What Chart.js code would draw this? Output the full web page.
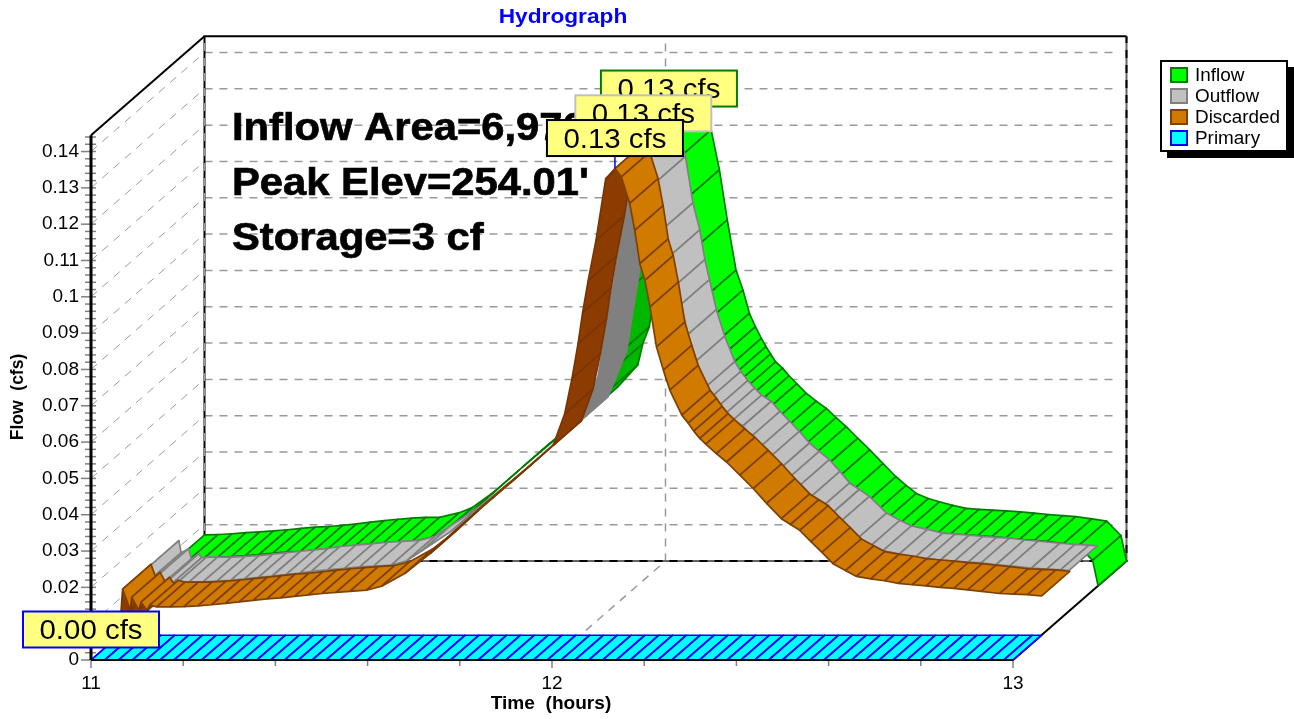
<!DOCTYPE html>
<html>
<head>
<meta charset="utf-8">
<title>Hydrograph</title>
<script src="https://cdn.jsdelivr.net/npm/chart.js@4"></script>
<style>
  html, body { margin: 0; padding: 0; background: #fff; }
  canvas { display: block; }
</style>
</head>
<body>
<canvas id="myChart" width="1294" height="719"></canvas>
<script>
const seriesNames = ['Inflow', 'Outflow', 'Discarded', 'Primary'];

const inflowHours = [11, 11.03, 11.06, 11.09, 11.12, 11.15, 11.18, 11.21, 11.24, 11.27,
  11.3, 11.33, 11.36, 11.39, 11.42, 11.45, 11.48, 11.51, 11.553, 11.582,
  11.633, 11.683, 11.75, 11.82, 11.88, 11.897, 11.94, 11.951, 11.965, 11.985,
  12.02, 12.05, 12.065, 12.08, 12.099, 12.117, 12.134, 12.153, 12.168, 12.182,
  12.195, 12.208, 12.218, 12.228, 12.239, 12.254, 12.268, 12.285, 12.305, 12.327,
  12.349, 12.37, 12.392, 12.417, 12.443, 12.472, 12.5, 12.522, 12.544, 12.57,
  12.594, 12.623, 12.652, 12.68, 12.71, 12.739, 12.77, 12.8, 12.83, 12.862,
  12.89, 12.925, 12.957, 12.988, 13];
const inflowFlow = [0.0072, 0.0073, 0.0075, 0.0078, 0.008, 0.0083, 0.0086, 0.009, 0.0093, 0.0095,
  0.0098, 0.0102, 0.0107, 0.0111, 0.0115, 0.0118, 0.012, 0.012, 0.0133, 0.0148,
  0.0195, 0.0251, 0.0325, 0.04, 0.0465, 0.048, 0.054, 0.0599, 0.0645, 0.082,
  0.105, 0.125, 0.1307, 0.1275, 0.1187, 0.1077, 0.0939, 0.0801, 0.0746, 0.0682,
  0.0645, 0.0613, 0.059, 0.057, 0.0548, 0.0531, 0.051, 0.0488, 0.0462, 0.044,
  0.042, 0.0395, 0.037, 0.0338, 0.0306, 0.0268, 0.0232, 0.0208, 0.0186, 0.0172,
  0.0163, 0.0153, 0.0145, 0.0142, 0.014, 0.0138, 0.0135, 0.0132, 0.0128, 0.0125,
  0.0122, 0.0116, 0.011, 0.007, 0];

const outflowHours = [11, 11.006, 11.011, 11.027, 11.033, 11.049, 11.055, 11.066, 11.09, 11.12,
  11.15, 11.18, 11.21, 11.24, 11.27, 11.3, 11.33, 11.355, 11.39, 11.427,
  11.46, 11.49, 11.528, 11.561, 11.593, 11.658, 11.745, 11.811, 11.879, 11.937,
  11.977, 12.002, 12.03, 12.055, 12.07, 12.085, 12.105, 12.121, 12.136, 12.147,
  12.157, 12.172, 12.19, 12.212, 12.225, 12.24, 12.255, 12.27, 12.291, 12.31,
  12.331, 12.352, 12.374, 12.395, 12.417, 12.44, 12.461, 12.482, 12.504, 12.541,
  12.57, 12.595, 12.63, 12.663, 12.69, 12.72, 12.75, 12.78, 12.808, 12.84,
  12.87, 12.917, 12.95, 12.98, 12.998];
const outflowFlow = [0, 0.0124, 0.0091, 0.0102, 0.0074, 0.0088, 0.0077, 0.0079, 0.0079, 0.0079,
  0.0081, 0.0083, 0.0087, 0.0091, 0.0095, 0.0099, 0.0103, 0.0108, 0.0112, 0.0116,
  0.012, 0.0122, 0.0125, 0.0136, 0.0163, 0.0218, 0.0306, 0.0379, 0.0457, 0.0521,
  0.0645, 0.0843, 0.105, 0.1245, 0.1285, 0.1265, 0.1182, 0.1054, 0.098, 0.0898,
  0.0843, 0.076, 0.0687, 0.0617, 0.059, 0.0565, 0.0544, 0.0525, 0.0508, 0.048,
  0.0453, 0.0425, 0.0393, 0.037, 0.0347, 0.0315, 0.0283, 0.0265, 0.0246, 0.02,
  0.018, 0.0165, 0.0155, 0.0145, 0.0142, 0.0139, 0.0136, 0.0133, 0.0131, 0.0126,
  0.0123, 0.0117, 0.0114, 0.0112, 0.011];

const discardedHours = [11, 11.007, 11.024, 11.027, 11.042, 11.047, 11.06, 11.066, 11.081, 11.11,
  11.14, 11.17, 11.2, 11.23, 11.26, 11.29, 11.32, 11.35, 11.38, 11.41,
  11.44, 11.47, 11.5, 11.536, 11.569, 11.619, 11.674, 11.717, 11.782, 11.847,
  11.941, 11.966, 11.982, 11.995, 12.005, 12.017, 12.034, 12.055, 12.075, 12.089,
  12.107, 12.118, 12.129, 12.14, 12.151, 12.165, 12.18, 12.194, 12.22, 12.234,
  12.246, 12.259, 12.272, 12.295, 12.317, 12.346, 12.375, 12.404, 12.436, 12.456,
  12.476, 12.5, 12.524, 12.548, 12.575, 12.599, 12.63, 12.66, 12.69, 12.72,
  12.75, 12.78, 12.81, 12.84, 12.87, 12.91, 12.94, 12.97, 13];
const discardedFlow = [0, 0.0127, 0.0069, 0.0105, 0.0069, 0.0091, 0.0069, 0.0083, 0.0078, 0.0078,
  0.0079, 0.0081, 0.0084, 0.0088, 0.0092, 0.0096, 0.01, 0.0103, 0.0107, 0.0111,
  0.0115, 0.0118, 0.0121, 0.0124, 0.0135, 0.017, 0.0225, 0.0275, 0.0349, 0.0418,
  0.0523, 0.061, 0.0708, 0.0803, 0.0889, 0.0977, 0.1088, 0.1257, 0.1285, 0.1262,
  0.1189, 0.1115, 0.1023, 0.0977, 0.0904, 0.0794, 0.073, 0.0675, 0.0606, 0.0584,
  0.0562, 0.0542, 0.0526, 0.05, 0.0477, 0.0441, 0.0404, 0.0363, 0.0321, 0.0305,
  0.0289, 0.0258, 0.0228, 0.0197, 0.0178, 0.0162, 0.0155, 0.015, 0.0143, 0.0139,
  0.0136, 0.0132, 0.0129, 0.0125, 0.0121, 0.0115, 0.0113, 0.0112, 0.0108];

const primaryHours = [11, 11.03, 11.06, 11.09, 11.12, 11.15, 11.18, 11.21, 11.24, 11.27,
  11.3, 11.33, 11.36, 11.39, 11.42, 11.45, 11.48, 11.51, 11.54, 11.57,
  11.6, 11.63, 11.66, 11.69, 11.72, 11.75, 11.78, 11.81, 11.84, 11.87,
  11.9, 11.93, 11.96, 11.99, 12.02, 12.05, 12.08, 12.11, 12.14, 12.17,
  12.2, 12.23, 12.26, 12.29, 12.32, 12.35, 12.38, 12.41, 12.44, 12.47,
  12.5, 12.53, 12.56, 12.59, 12.62, 12.65, 12.68, 12.71, 12.74, 12.77,
  12.8, 12.83, 12.86, 12.89, 12.92, 12.95, 12.98, 13];
const primaryFlow = [0, 0, 0, 0, 0, 0, 0, 0, 0, 0,
  0, 0, 0, 0, 0, 0, 0, 0, 0, 0,
  0, 0, 0, 0, 0, 0, 0, 0, 0, 0,
  0, 0, 0, 0, 0, 0, 0, 0, 0, 0,
  0, 0, 0, 0, 0, 0, 0, 0, 0, 0,
  0, 0, 0, 0, 0, 0, 0, 0, 0, 0,
  0, 0, 0, 0, 0, 0, 0, 0];

const hourTicks = [11, 12, 13];
const hourMinorTicks = [11.2, 11.4, 11.6, 11.8, 12.2, 12.4, 12.6, 12.8];
const flowTicks = [0, 0.01, 0.02, 0.03, 0.04, 0.05, 0.06, 0.07, 0.08, 0.09, 0.1, 0.11, 0.12, 0.13, 0.14];
const flowMinorSteps = [0.002, 0.004, 0.006, 0.008];

const peakLabels = ['0.13 cfs', '0.13 cfs', '0.13 cfs', '0.00 cfs'];
const peakHours = [12.069, 12.075, 12.075, 11];
const peakFlows = [0.1285, 0.1285, 0.1285, 0];
const noteLines = ['Inflow Area=6,970 sf', "Peak Elev=254.01'", 'Storage=3 cf'];

// the fake 3d: how far the back wall sits from the front plane, in data units
const depthHours = 0.2462;
const depthFlow = 0.02726;
const axisTopFlow = 0.1445;
const hourMin = 11;
const hourMax = 13;

const fills = ['#00ff00', '#c0c0c0', '#d07a00', '#00ffff'];
const darkFills = ['#00b800', '#808080', '#8c3c00', '#00b0b0'];
const strokes = ['#007c00', '#808080', '#804000', '#0000ff'];
const font = '"Liberation Sans", Arial, sans-serif';

const lineDataset = function (points, color, width, dash) {
  return {
    data: points,
    showLine: true,
    fill: false,
    borderColor: color,
    borderWidth: width,
    borderDash: dash || [],
    pointRadius: 0,
    tension: 0,
    clip: false,
  };
};

const backOf = function (hour, flow) {
  return { x: hour + depthHours, y: flow + depthFlow };
};

const makeWalls = function () {
  const walls = [];
  const gray = '#9a9a9a';
  const dash = [8, 7];
  flowTicks.forEach(function (v) {
    // side wall and back wall grid lines
    walls.push(lineDataset([{ x: hourMin, y: v }, backOf(hourMin, v)], gray, 1, dash));
    if (v > 0) {
      walls.push(lineDataset([backOf(hourMin, v), backOf(hourMax - 0.018, v)], gray, 1.5, dash));
    }
  });
  // x = 12 grid line, over the floor and up the back wall
  walls.push(lineDataset([{ x: 12, y: 0 }, backOf(12, 0), backOf(12, axisTopFlow)], gray, 1.5, dash));
  // box edges
  walls.push(lineDataset([backOf(hourMin, 0), backOf(hourMin, axisTopFlow), backOf(hourMax, axisTopFlow)], '#000', 2));
  walls.push(lineDataset([backOf(hourMin, 0), backOf(hourMin, axisTopFlow)], gray, 1.5, dash));
  walls.push(lineDataset([{ x: hourMin, y: axisTopFlow }, backOf(hourMin, axisTopFlow)], '#000', 2));
  walls.push(lineDataset([backOf(hourMin, 0), backOf(hourMax, 0), backOf(hourMax, axisTopFlow)], '#666', 2));
  walls.push(lineDataset([backOf(hourMin, 0), backOf(hourMax, 0), backOf(hourMax, axisTopFlow)], '#000', 2, dash));
  walls.push(lineDataset([{ x: hourMax, y: 0 }, backOf(hourMax, 0)], '#000', 2));
  return walls;
};

const makeRibbon = function (hours, flows, index) {
  const quads = [];
  const h0 = depthHours * index / 4;
  const f0 = depthFlow * index / 4;
  const h1 = depthHours * (index + 1) / 4;
  const f1 = depthFlow * (index + 1) / 4;
  for (let i = 0; i < hours.length - 1; i++) {
    const a = hours[i];
    const b = hours[i + 1];
    const fa = flows[i];
    const fb = flows[i + 1];
    // steeper than the depth direction means we look at the underside
    const under = (fb - fa) / (b - a) > depthFlow / depthHours;
    const colorIndex = 3 - index;
    quads.push({
      data: [
        { x: a + h0, y: fa + f0 },
        { x: b + h0, y: fb + f0 },
        { x: b + h1, y: fb + f1 },
        { x: a + h1, y: fa + f1 },
        { x: a + h0, y: fa + f0 },
      ],
      showLine: true,
      fill: 'shape',
      backgroundColor: under ? darkFills[colorIndex] : fills[colorIndex],
      borderColor: under ? (colorIndex === 2 ? '#7a3400' : colorIndex === 0 ? '#008000' : '#808080') : strokes[colorIndex],
      borderWidth: 1.7,
      borderJoinStyle: 'round',
      pointRadius: 0,
      tension: 0,
      clip: false,
    });
  }
  return quads;
};

const makeDatasets = function () {
  // painter's order, back to front
  let sets = makeWalls();
  sets = sets.concat(makeRibbon(inflowHours, inflowFlow, 3));
  sets = sets.concat(makeRibbon(outflowHours, outflowFlow, 2));
  sets = sets.concat(makeRibbon(discardedHours, discardedFlow, 1));
  sets = sets.concat(makeRibbon(primaryHours, primaryFlow, 0));
  sets.push(lineDataset([{ x: hourMin, y: 0 }, { x: hourMax, y: 0 }], '#000', 2));
  sets.push(lineDataset([{ x: hourMin, y: 0 }, { x: hourMin, y: axisTopFlow }], '#000', 3));
  // chart.js paints the first dataset last
  return sets.reverse();
};

// text in the reference is a bit wider than the font, so stretch it a little
const drawText = function (ctx, text, x, y, fontText, color, stretch, align, heavy) {
  ctx.save();
  ctx.translate(x, y);
  ctx.scale(stretch, 1);
  ctx.font = fontText;
  ctx.fillStyle = color;
  ctx.textAlign = align;
  ctx.textBaseline = 'alphabetic';
  ctx.fillText(text, 0, 0);
  if (heavy) {
    ctx.strokeStyle = color;
    ctx.lineWidth = heavy;
    ctx.strokeText(text, 0, 0);
  }
  ctx.restore();
};

const extras = {
  id: 'extras',
  // tick marks go under the axis line and the labels
  beforeDatasetsDraw(chart) {
    const { ctx, scales: { x, y } } = chart;
    ctx.save();
    ctx.strokeStyle = '#808080';
    ctx.lineWidth = 1.5;
    flowTicks.forEach(function (v) {
      const py = y.getPixelForValue(v);
      ctx.beginPath();
      ctx.moveTo(81, py);
      ctx.lineTo(96, py);
      ctx.stroke();
      flowMinorSteps.forEach(function (s) {
        if (v + s > axisTopFlow) return;
        const my = y.getPixelForValue(v + s);
        ctx.beginPath();
        ctx.moveTo(85, my);
        ctx.lineTo(96, my);
        ctx.stroke();
      });
    });
    hourTicks.concat(hourMinorTicks).forEach(function (v) {
      const px = x.getPixelForValue(v);
      ctx.beginPath();
      ctx.moveTo(px, 661);
      ctx.lineTo(px, hourTicks.includes(v) ? 668 : 666);
      ctx.stroke();
    });
    ctx.restore();
  },
  afterDatasetsDraw(chart) {
    const { ctx, scales: { x, y } } = chart;
    ctx.save();

    // titles
    drawText(ctx, 'Hydrograph', 563, 23, 'bold 21px ' + font, '#0000ff', 1.08, 'center');
    drawText(ctx, 'Time  (hours)', 551, 709, 'bold 17.5px ' + font, '#000', 1.09, 'center');
    ctx.save();
    ctx.translate(23, 397);
    ctx.rotate(-Math.PI / 2);
    drawText(ctx, 'Flow  (cfs)', 0, 0, 'bold 17.5px ' + font, '#000', 1, 'center');
    ctx.restore();

    // big note
    noteLines.forEach(function (line, i) {
      drawText(ctx, line, 232, 140 + i * 55, 'bold 39px ' + font, '#000', 1.07, 'left', 0.7);
    });

    // peak labels, back series first
    peakLabels.forEach(function (label, i) {
      const depth = (3 - i) / 4;
      const px = x.getPixelForValue(peakHours[i] + depthHours * depth);
      const py = y.getPixelForValue(peakFlows[i] + depthFlow * depth);
      const boxTop = py - 48.5;
      ctx.fillStyle = '#ffff80';
      ctx.strokeStyle = strokes[i] === '#808080' ? '#c0c0c0' : strokes[i] === '#804000' ? '#000' : strokes[i];
      ctx.lineWidth = 2;
      ctx.fillRect(px - 68, boxTop, 136, 36);
      ctx.strokeRect(px - 68, boxTop, 136, 36);
      drawText(ctx, label, px, boxTop + 27.5, '27px ' + font, '#000', 1.09, 'center');
      if (i === 2) {
        ctx.strokeStyle = '#0000ff';
        ctx.lineWidth = 1.5;
        ctx.beginPath();
        ctx.moveTo(px, py - 12);
        ctx.lineTo(px, py);
        ctx.stroke();
      }
    });

    // legend
    ctx.fillStyle = '#000';
    ctx.fillRect(1167, 67, 127, 91);
    ctx.fillStyle = '#fff';
    ctx.strokeStyle = '#000';
    ctx.lineWidth = 2;
    ctx.fillRect(1161, 61, 126, 90);
    ctx.strokeRect(1161, 61, 126, 90);
    seriesNames.forEach(function (name, i) {
      const top = 68 + i * 21;
      ctx.fillStyle = fills[i];
      ctx.strokeStyle = strokes[i];
      ctx.lineWidth = 2;
      ctx.fillRect(1171, top, 16, 14);
      ctx.strokeRect(1171, top, 16, 14);
      drawText(ctx, name, 1195, top + 12.5, '17.5px ' + font, '#000', 1.08, 'left');
    });
    ctx.restore();
  },
};

const makeChart = function () {
  const config = {
    type: 'scatter',
    data: { datasets: makeDatasets() },
    options: {
      responsive: false,
      animation: false,
      events: [],
      layout: { padding: { left: 0, right: 167, top: 36, bottom: 0 } },
      plugins: {
        legend: { display: false },
        title: { display: false },
        tooltip: { enabled: false },
      },
      scales: {
        x: {
          type: 'linear',
          min: 11,
          max: 13.2473,
          grid: { display: false, drawTicks: false },
          border: { display: false },
          afterBuildTicks(scale) {
            scale.ticks = hourTicks.map((v) => ({ value: v }));
          },
          afterFit(scale) {
            scale.height = 59;
          },
          ticks: {
            autoSkip: false,
            maxRotation: 0,
            padding: 12,
            color: '#000',
            font: { family: font, size: 19 },
            callback: (v) => String(v),
          },
        },
        y: {
          type: 'linear',
          min: 0,
          max: 0.17181,
          grid: { display: false, drawTicks: false },
          border: { display: false },
          afterBuildTicks(scale) {
            scale.ticks = flowTicks.map((v) => ({ value: v }));
          },
          afterFit(scale) {
            scale.width = 91;
          },
          ticks: {
            autoSkip: false,
            padding: 12,
            color: '#000',
            font: { family: font, size: 19 },
            callback: (v) => String(v),
          },
        },
      },
    },
    plugins: [extras],
  };
  new Chart(document.getElementById('myChart'), config);
};

document.addEventListener('DOMContentLoaded', makeChart);
</script>
</body>
</html>
